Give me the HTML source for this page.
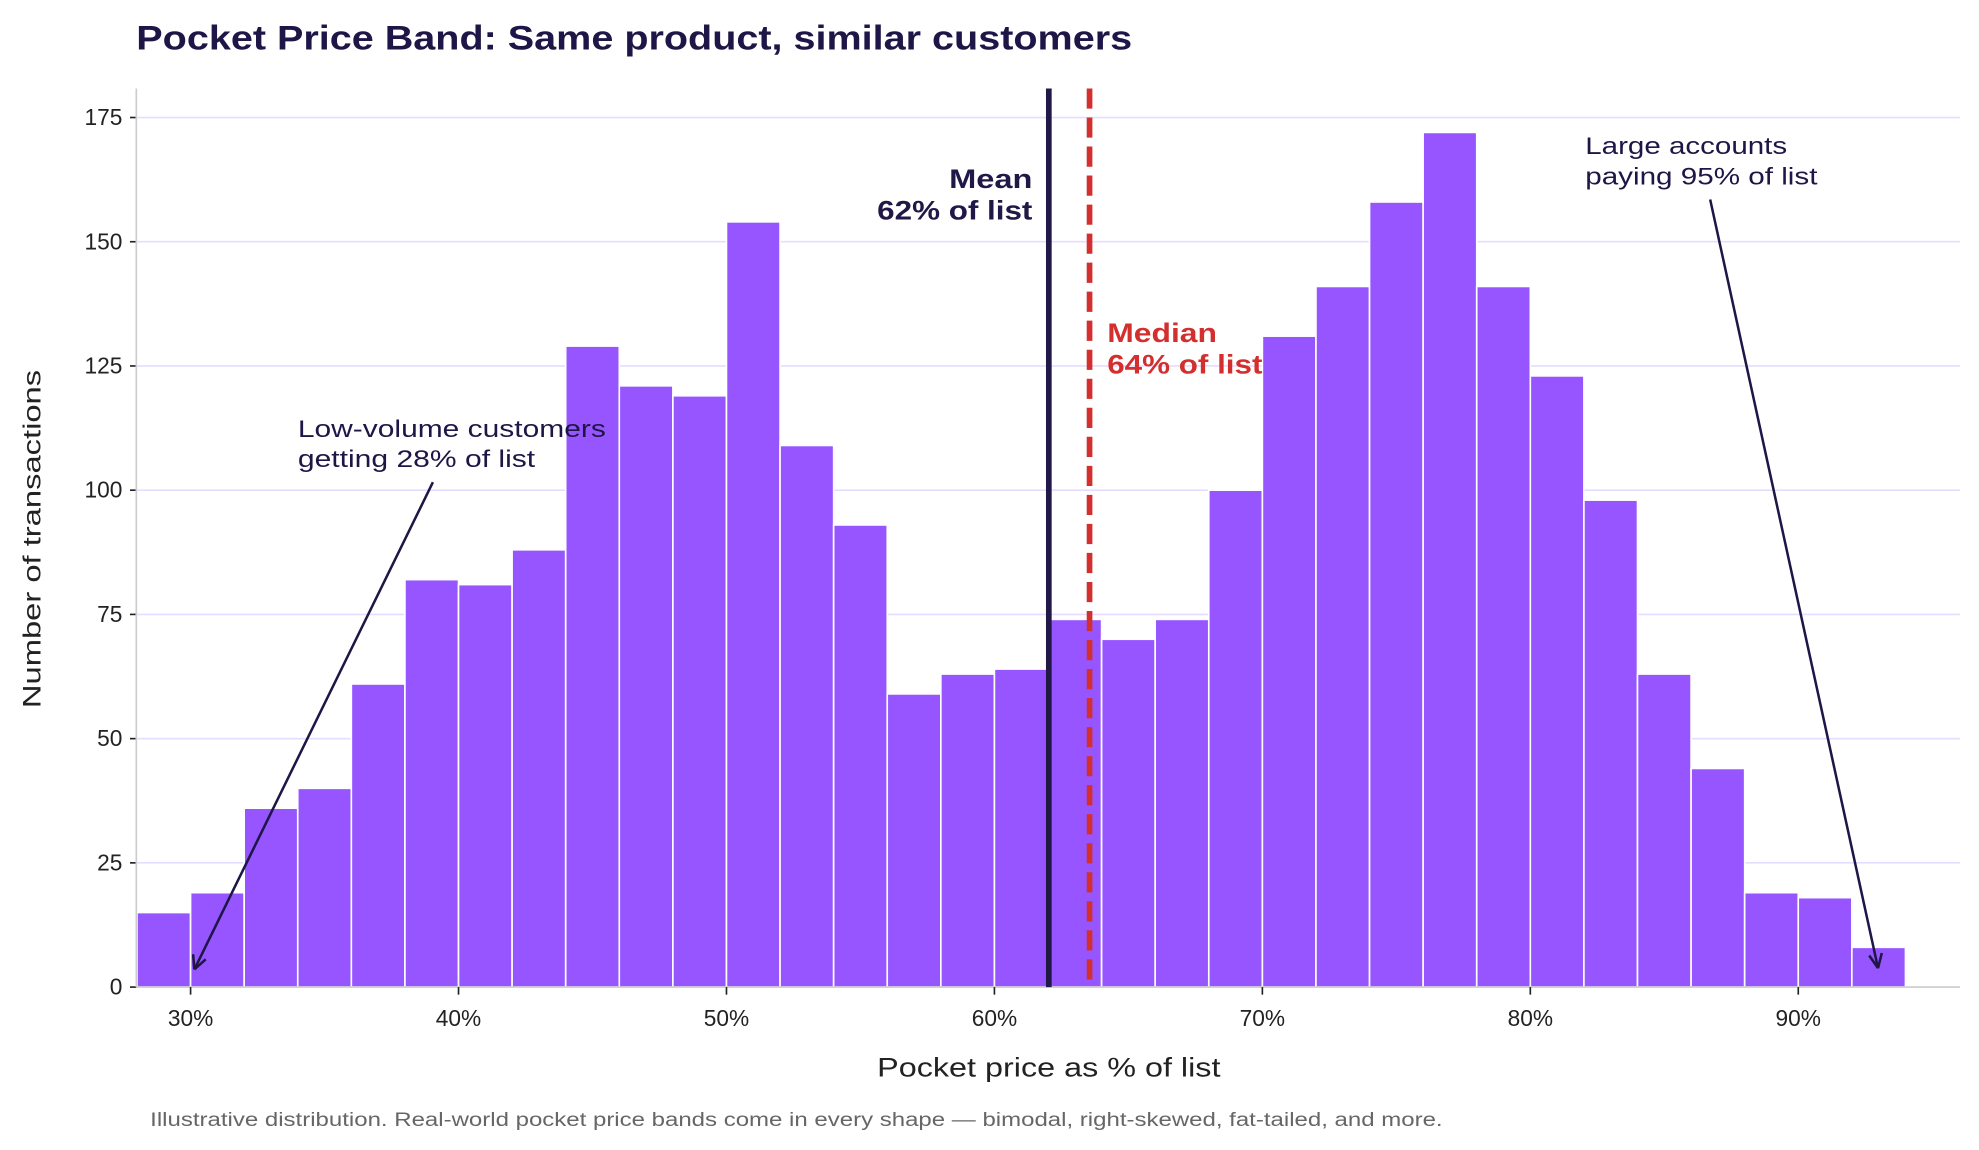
<!DOCTYPE html>
<html><head><meta charset="utf-8"><style>
html,body{margin:0;padding:0;background:#fff;}
svg{display:block;font-family:"Liberation Sans",sans-serif;}
</style></head><body>
<svg id="chart" width="1979" height="1150" viewBox="0 0 1568 911" xmlns="http://www.w3.org/2000/svg">
<text x="108" y="39" font-size="27" font-weight="bold" fill="#1e1646" textLength="789" lengthAdjust="spacingAndGlyphs">Pocket Price Band: Same product, similar customers</text>
<g id="grid"></g>
<g id="bars"></g>
<g id="axes"></g>
<g id="refs"></g>
<text transform="translate(32,427) rotate(-90)" text-anchor="middle" font-size="20" fill="#222" textLength="268" lengthAdjust="spacingAndGlyphs">Number of transactions</text>
<text x="831" y="853" text-anchor="middle" font-size="21" fill="#222" textLength="272" lengthAdjust="spacingAndGlyphs">Pocket price as % of list</text>
<text x="119" y="892" font-size="15" fill="#666" textLength="1024" lengthAdjust="spacingAndGlyphs">Illustrative distribution. Real-world pocket price bands come in every shape — bimodal, right-skewed, fat-tailed, and more.</text>
<g>
<text x="236" y="346" font-size="19" fill="#1e1646" textLength="244" lengthAdjust="spacingAndGlyphs">Low-volume customers</text>
<text x="236" y="370" font-size="19" fill="#1e1646" textLength="188" lengthAdjust="spacingAndGlyphs">getting 28% of list</text>
<line x1="343" y1="382" x2="154" y2="768" stroke="#1e1646" stroke-width="2"/>
<path d="M154,768 L153,756 M154,768 L163,760" stroke="#1e1646" stroke-width="2" fill="none"/>
</g>
<g>
<text x="1256" y="122" font-size="19" fill="#1e1646" textLength="160" lengthAdjust="spacingAndGlyphs">Large accounts</text>
<text x="1256" y="146" font-size="19" fill="#1e1646" textLength="184" lengthAdjust="spacingAndGlyphs">paying 95% of list</text>
<line x1="1355" y1="158" x2="1488" y2="767" stroke="#1e1646" stroke-width="2"/>
<path d="M1488,767 L1481,757 M1488,767 L1491,755" stroke="#1e1646" stroke-width="2" fill="none"/>
</g>
</svg>
<script>
const binStarts=[28,30,32,34,36,38,40,42,44,46,48,50,52,54,56,58,60,62,64,66,68,70,72,74,76,78,80,82,84,86,88,90,92];
const counts=[15,19,36,40,61,82,81,88,129,121,119,154,109,93,59,63,64,74,70,74,100,131,141,158,172,141,123,98,63,44,19,18,8];
const xTicks=[30,40,50,60,70,80,90];
const xTickLabels=["30%","40%","50%","60%","70%","80%","90%"];
const yTicks=[0,25,50,75,100,125,150,175];
const meanVal=[62.03];
const medianVal=[63.55];
const binWidth=2;
const NS="http://www.w3.org/2000/svg";
function sx(p){return 151+(p-30)*21.23;}
function sy(v){return 782-v*3.937;}
function mk(tag,attrs,parent){const e=document.createElementNS(NS,tag);for(const k in attrs)e.setAttribute(k,attrs[k]);parent.appendChild(e);return e;}
const grid=document.getElementById('grid'),bars=document.getElementById('bars'),axes=document.getElementById('axes'),refs=document.getElementById('refs');
yTicks.forEach(v=>{
 if(v>0){const g=mk('line',{x1:108,x2:1553,y1:sy(v),y2:sy(v),stroke:'#e6dcff','stroke-width':1.3},grid);
 
 }
 const t=mk('line',{x1:103,x2:108,y1:sy(v),y2:sy(v),stroke:'#222','stroke-width':1.3},axes);
 
 
 const l=mk('text',{x:97,y:sy(v)+6,'text-anchor':'end','font-size':18,fill:'#222'},axes);l.textContent=v;
 
 
});
binStarts.forEach((b,i)=>{
 const x0=sx(b),x1=sx(b+binWidth);
 const r=mk('rect',{x:x0,y:sy(counts[i]),width:x1-x0,height:sy(0)-sy(counts[i]),fill:'#9655ff',stroke:'#fff','stroke-width':1.3},bars);
 
 
});
const la=mk('line',{x1:108,x2:108,y1:70,y2:782,stroke:'#ccc','stroke-width':1.3},axes);


const ba=mk('line',{x1:108,x2:1553,y1:782,y2:782,stroke:'#ccc','stroke-width':1.3},axes);


xTicks.forEach((p,i)=>{
 const t=mk('line',{x1:sx(p),x2:sx(p),y1:782,y2:788,stroke:'#222','stroke-width':1.3},axes);
 
 
 const l=mk('text',{x:sx(p),y:813,'text-anchor':'middle','font-size':18,fill:'#222'},axes);l.textContent=xTickLabels[i];
 
 
});
const mx=sx(meanVal[0]);
const ml=mk('line',{x1:mx,x2:mx,y1:70,y2:782,stroke:'#211847','stroke-width':4.5},refs);


const mt1=mk('text',{x:mx-13,y:149,'text-anchor':'end','font-size':21,'font-weight':'bold',fill:'#211847',textLength:66,lengthAdjust:'spacingAndGlyphs'},refs);mt1.textContent='Mean';


const mt2=mk('text',{x:mx-13,y:174,'text-anchor':'end','font-size':21,'font-weight':'bold',fill:'#211847',textLength:123,lengthAdjust:'spacingAndGlyphs'},refs);mt2.textContent=Math.round(meanVal[0])+'% of list';


const dx=sx(medianVal[0]);
const dl=mk('line',{x1:dx,x2:dx,y1:70,y2:782,stroke:'#d32f2f','stroke-width':4.5,'stroke-dasharray':'16 7'},refs);


const dt1=mk('text',{x:dx+14,y:271,'font-size':21,'font-weight':'bold',fill:'#d32f2f',textLength:87,lengthAdjust:'spacingAndGlyphs'},refs);dt1.textContent='Median';


const dt2=mk('text',{x:dx+14,y:296,'font-size':21,'font-weight':'bold',fill:'#d32f2f',textLength:123,lengthAdjust:'spacingAndGlyphs'},refs);dt2.textContent=Math.round(medianVal[0])+'% of list';


</script>
</body></html>
